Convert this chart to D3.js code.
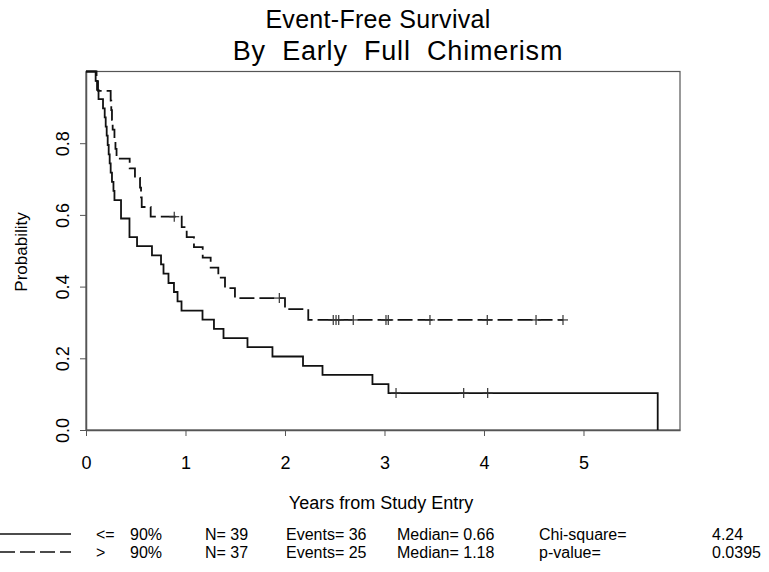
<!DOCTYPE html>
<html>
<head>
<meta charset="utf-8">
<script src="https://cdn.jsdelivr.net/npm/d3@7"></script>
<style>
body { margin: 0; background: #fff; }
text { font-family: "Liberation Sans", Arial, sans-serif; fill: #000; }
</style>
</head>
<body>
<div id="chart"></div>
<script>
// <= 90% group (solid): event times (years) and survival after each event
var solid_time = [0.097, 0.111, 0.126, 0.171, 0.188, 0.198, 0.208, 0.218, 0.228, 0.238, 0.248, 0.261,
    0.276, 0.286, 0.352, 0.437, 0.513, 0.663, 0.754, 0.779, 0.829, 0.884, 0.920, 0.960, 1.171, 1.286,
    1.382, 1.623, 1.874, 2.181, 2.377, 2.879, 3.040, 5.746];
var solid_surv = [0.974, 0.949, 0.923, 0.897, 0.872, 0.846, 0.821, 0.795, 0.769, 0.744, 0.718, 0.692,
    0.667, 0.641, 0.590, 0.538, 0.513, 0.487, 0.462, 0.436, 0.410, 0.385, 0.359, 0.333, 0.308, 0.282,
    0.256, 0.231, 0.205, 0.179, 0.154, 0.128, 0.103, 0];
var solid_cens_time = [3.116, 3.796, 4.037];
var solid_cens_surv = [0.103, 0.103, 0.103];

// > 90% group (dashed)
var dash_time = [0.106, 0.121, 0.248, 0.254, 0.261, 0.268, 0.286, 0.296, 0.307, 0.439, 0.492, 0.543,
    0.553, 0.560, 0.650, 0.962, 1.012, 1.085, 1.173, 1.253, 1.330, 1.397, 1.497, 2.000, 2.234];
var dash_surv = [0.973, 0.946, 0.919, 0.892, 0.865, 0.838, 0.811, 0.784, 0.757, 0.730, 0.703, 0.676,
    0.649, 0.622, 0.595, 0.566, 0.538, 0.510, 0.481, 0.453, 0.425, 0.396, 0.368, 0.337, 0.307];
var dash_cens_time = [0.887, 1.943, 2.485, 2.513, 2.540, 2.686, 3.015, 3.038, 3.457, 4.033, 4.523, 4.794];
var dash_cens_surv = [0.595, 0.368, 0.307, 0.307, 0.307, 0.307, 0.307, 0.307, 0.307, 0.307, 0.307, 0.307];

var x_ticks = [0, 1, 2, 3, 4, 5];
var y_ticks = [0, 0.2, 0.4, 0.6, 0.8];

// legend table
var legend_group = ['<=', '>'];
var legend_pct = ['90%', '90%'];
var legend_n = ['N= 39', 'N= 37'];
var legend_events = ['Events= 36', 'Events= 25'];
var legend_median = ['Median= 0.66', 'Median= 1.18'];
var legend_stat = ['Chi-square=', 'p-value='];
var legend_stat_val = ['4.24', '0.0395'];

var chart_width = 769;
var chart_height = 572;
var svg = d3.select('#chart')
    .append('svg')
    .attr('width', chart_width)
    .attr('height', chart_height)

var x_scale = d3.scaleLinear()
    .domain([0, 5.97])
    .range([86, 680])

var y_scale = d3.scaleLinear()
    .domain([0, 1])
    .range([430, 71.5])

// frame
svg.append('rect')
    .attr('x', x_scale(0))
    .attr('y', y_scale(1))
    .attr('width', x_scale(5.97) - x_scale(0))
    .attr('height', y_scale(0) - y_scale(1))
    .attr('fill', 'none')
    .attr('stroke', '#555')
    .attr('stroke-width', 1.2)

// axes
var x_axis = svg.append('g')
    .attr('transform', 'translate(0,' + y_scale(0) + ')')
    .call(d3.axisBottom(x_scale).tickValues(x_ticks).tickSize(6).tickSizeOuter(0).tickFormat(d3.format('d')))
x_axis.select('.domain').attr('stroke', '#555').attr('stroke-width', 1.5)
x_axis.selectAll('.tick line').attr('stroke', '#555')
x_axis.selectAll('.tick text')
    .attr('y', 39)
    .attr('dy', 0)
    .attr('font-size', 18)
    .attr('font-family', '"Liberation Sans", Arial, sans-serif')

var y_axis = svg.append('g')
    .attr('transform', 'translate(' + x_scale(0) + ',0)')
    .call(d3.axisLeft(y_scale).tickValues(y_ticks).tickSize(6).tickSizeOuter(0).tickFormat(d3.format('.1f')))
y_axis.select('.domain').attr('stroke', '#555').attr('stroke-width', 1.5)
y_axis.selectAll('.tick line').attr('stroke', '#555')
y_axis.selectAll('.tick text')
    .attr('transform', 'rotate(-90)')
    .attr('x', 0)
    .attr('y', -17)
    .attr('dy', 0)
    .attr('text-anchor', 'middle')
    .attr('font-size', 18)
    .attr('font-family', '"Liberation Sans", Arial, sans-serif')

// survival curves
function stepPoints(times, surv, end) {
    var pts = [[0, 1]];
    times.forEach(function (t, i) {
        pts.push([t, surv[i]]);
    });
    if (end > times[times.length - 1]) pts.push([end, surv[surv.length - 1]]);
    return pts;
}

var line = d3.line()
    .x(function (d) { return x_scale(d[0]); })
    .y(function (d) { return y_scale(d[1]); })
    .curve(d3.curveStepAfter)

svg.append('path')
    .attr('d', line(stepPoints(solid_time, solid_surv, d3.max(solid_cens_time))))
    .attr('fill', 'none')
    .attr('stroke', '#111')
    .attr('stroke-width', 1.8)

svg.append('path')
    .attr('d', line(stepPoints(dash_time, dash_surv, d3.max(dash_cens_time))))
    .attr('fill', 'none')
    .attr('stroke', '#111')
    .attr('stroke-width', 1.8)
    .attr('stroke-dasharray', '15,5')

// censor marks
function drawCensor(times, surv) {
    var g = svg.append('g');
    times.forEach(function (t, i) {
        var cx = x_scale(t), cy = y_scale(surv[i]);
        g.append('line').attr('x1', cx).attr('x2', cx).attr('y1', cy - 5).attr('y2', cy + 5)
            .attr('stroke', '#333').attr('stroke-width', 1.2);
        g.append('line').attr('x1', cx - 5).attr('x2', cx + 5).attr('y1', cy).attr('y2', cy)
            .attr('stroke', '#333').attr('stroke-width', 1.2);
    });
}
drawCensor(solid_cens_time, solid_cens_surv);
drawCensor(dash_cens_time, dash_cens_surv);

// titles
svg.append('text').text('Event-Free Survival')
    .attr('x', 378).attr('y', 28)
    .attr('text-anchor', 'middle').attr('font-size', 25)
    .attr('letter-spacing', 0.3)
svg.append('text').text('By Early Full Chimerism')
    .attr('x', 398).attr('y', 60)
    .attr('text-anchor', 'middle').attr('font-size', 27)
    .attr('letter-spacing', 0.8)
    .attr('word-spacing', 8)

svg.append('text').text('Years from Study Entry')
    .attr('x', 381).attr('y', 509)
    .attr('text-anchor', 'middle').attr('font-size', 18)

svg.append('text').text('Probability')
    .attr('transform', 'translate(27,252) rotate(-90)')
    .attr('text-anchor', 'middle').attr('font-size', 17)

// legend
var row_y = [540, 558];
var leg = svg.append('g');
row_y.forEach(function (ry, i) {
    leg.append('line')
        .attr('x1', 0).attr('x2', 71)
        .attr('y1', ry - 6).attr('y2', ry - 6)
        .attr('stroke', '#111').attr('stroke-width', 1.5)
        .attr('stroke-dasharray', i === 0 ? null : '15,5')
    var cols = [[96, legend_group[i]], [130, legend_pct[i]], [205, legend_n[i]], [286, legend_events[i]],
        [397, legend_median[i]], [539, legend_stat[i]], [712, legend_stat_val[i]]];
    cols.forEach(function (c) {
        leg.append('text').text(c[1])
            .attr('x', c[0]).attr('y', ry)
            .attr('font-size', 16)
    });
});
</script>
</body>
</html>
